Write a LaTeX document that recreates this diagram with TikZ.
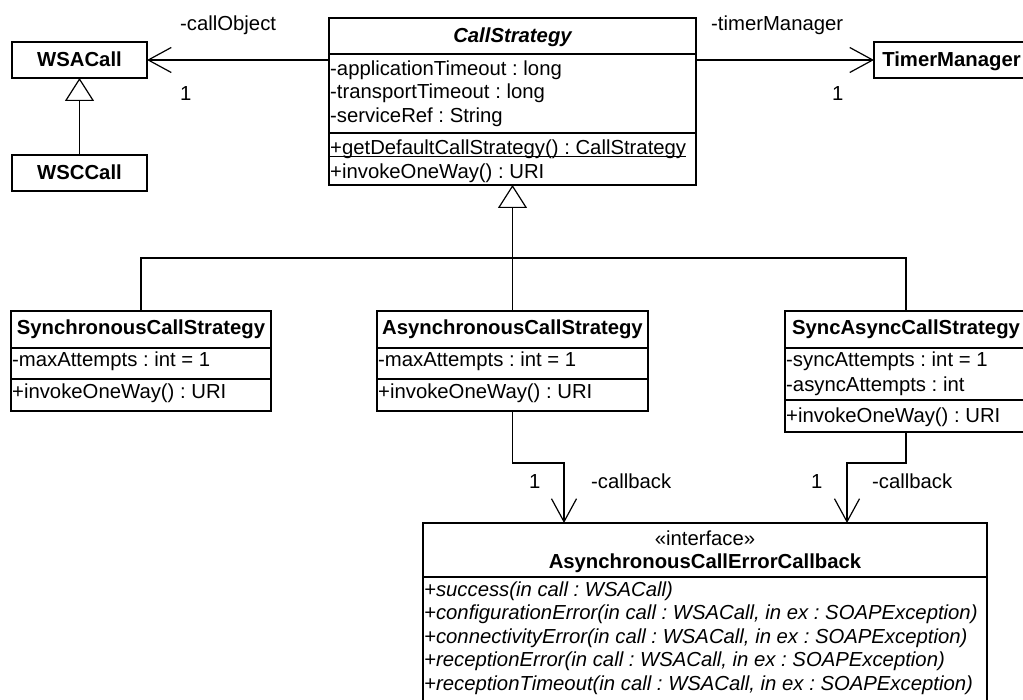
\documentclass[tikz,border=0pt]{standalone}
\usepackage{fontspec}
\setmainfont{Liberation Sans}
\usetikzlibrary{arrows.meta}
\frenchspacing

\begin{document}
\begin{tikzpicture}[x=1pt,y=-1pt,
  frame/.style={draw, line width=1.2pt, inner sep=0pt, outer sep=0pt},
  txt/.style={inner sep=0pt, anchor=base west, font=\fontsize{20.3}{24}\selectfont},
  optxt/.style={txt, font=\fontsize{20.3}{24}\selectfont\itshape},
  ttl/.style={inner sep=0pt, anchor=base, font=\fontsize{20.3}{24}\selectfont\bfseries},
  sep/.style={line width=1.2pt},
  conn/.style={line width=1.2pt},
  assoc/.style={conn, -{Straight Barb[length=23pt,width=25pt]}},
  inherit/.style={conn, -{Triangle[open,length=23pt,width=29pt]}}
]
\useasboundingbox (0,0) rectangle (1023,700);

% ---- class frames ----
\node[frame, minimum width=135pt, minimum height=36pt] (wsa) at (79.5,60) {};
\node[frame, minimum width=135pt, minimum height=36pt] (wsc) at (79.5,173) {};
\node[frame, minimum width=155pt, minimum height=36pt] (tm) at (951.5,60) {};
\node[frame, minimum width=367pt, minimum height=167pt] (cs) at (512.5,101.5) {};
\node[frame, minimum width=260pt, minimum height=100pt] (sync) at (141,361) {};
\node[frame, minimum width=271pt, minimum height=100pt] (async) at (512.5,361) {};
\node[frame, minimum width=242pt, minimum height=121pt] (sa) at (906,371.5) {};
\node[frame, minimum width=564pt, minimum height=182pt] (iface) at (705,614) {};

% ---- compartment separators ----
\draw[sep] (cs.west |- 0,54) -- (cs.east |- 0,54);
\draw[sep] (cs.west |- 0,133) -- (cs.east |- 0,133);
\draw[sep] (sync.west |- 0,348) -- (sync.east |- 0,348);
\draw[sep] (sync.west |- 0,379) -- (sync.east |- 0,379);
\draw[sep] (async.west |- 0,348) -- (async.east |- 0,348);
\draw[sep] (async.west |- 0,379) -- (async.east |- 0,379);
\draw[sep] (sa.west |- 0,348) -- (sa.east |- 0,348);
\draw[sep] (sa.west |- 0,400) -- (sa.east |- 0,400);
\draw[sep] (iface.west |- 0,577) -- (iface.east |- 0,577);

% ---- class names ----
\node[ttl] (wsaT) at (79.5,67) {WSACall};
\node[ttl] (wscT) at (79.5,180) {WSCCall};
\node[ttl] (tmT) at (951.5,67) {TimerManager};
\node[ttl, font=\fontsize{20.3}{24}\selectfont\bfseries\itshape] (csT) at (512.5,43) {CallStrategy};
\node[ttl] (syncT) at (141,335) {SynchronousCallStrategy};
\node[ttl] (asyncT) at (512.5,335) {AsynchronousCallStrategy};
\node[ttl] (saT) at (906,335) {SyncAsyncCallStrategy};
\node[ttl, font=\fontsize{20.3}{24}\selectfont] (ifS) at (705,545) {«interface»};
\node[ttl] (ifT) at (705,568) {AsynchronousCallErrorCallback};

% ---- CallStrategy members ----
\node[txt] (csA1) at (330,75.5) {-applicationTimeout : long};
\node[txt] (csA2) at (330,99) {-transportTimeout : long};
\node[txt] (csA3) at (330,122.5) {-serviceRef : String};
\node[txt] (csM1) at (330,155) {+getDefaultCallStrategy() : CallStrategy};
\draw[line width=1pt] ([yshift=-2pt]csM1.base west) -- ([yshift=-2pt]csM1.base east);
\node[txt] (csM2) at (330,178.5) {+invokeOneWay() : URI};

% ---- subclass members ----
\node[txt] (syncA) at (12,367) {-maxAttempts : int = 1};
\node[txt] (syncM) at (12,399) {+invokeOneWay() : URI};
\node[txt] (asyncA) at (378,367) {-maxAttempts : int = 1};
\node[txt] (asyncM) at (378,399) {+invokeOneWay() : URI};
\node[txt] (saA1) at (786,367) {-syncAttempts : int = 1};
\node[txt] (saA2) at (786,392) {-asyncAttempts : int};
\node[txt] (saM) at (786,423) {+invokeOneWay() : URI};

% ---- interface operations ----
\node[optxt] (ifM1) at (424,596) {+success(in call : WSACall)};
\node[optxt] (ifM2) at (424,619.5) {+configurationError(in call : WSACall, in ex : SOAPException)};
\node[optxt] (ifM3) at (424,643) {+connectivityError(in call : WSACall, in ex : SOAPException)};
\node[optxt] (ifM4) at (424,666.5) {+receptionError(in call : WSACall, in ex : SOAPException)};
\node[optxt] (ifM5) at (424,690) {+receptionTimeout(in call : WSACall, in ex : SOAPException)};

% ---- generalizations ----
\draw[inherit] (wsc.north) -- (wsa.south);
\coordinate (junc) at (512.5,258);
\draw[inherit] (junc) -- (cs.south);
\draw[conn] (sync.north) |- (junc);
\draw[conn] (async.north) -- (junc);
\draw[conn] (sa.north) |- (junc);

% ---- associations ----
\draw[assoc] (wsa.east -| cs.west) -- (wsa.east);
\draw[assoc] (tm.west -| cs.east) -- (tm.west);
\coordinate (bendA) at (564,463);
\coordinate (bendB) at (847,463);
\draw[assoc] (async.south) |- (bendA) -- (bendA |- iface.north);
\draw[assoc] (sa.south) |- (bendB) -- (bendB |- iface.north);

% ---- role names and multiplicities ----
\node[txt] (r1) at (180,31) {-callObject};
\node[txt] (m1) at (180,101) {1};
\node[txt] (r2) at (711,31) {-timerManager};
\node[txt] (m2) at (832,101) {1};
\node[txt] (m3) at (529,489) {1};
\node[txt] (r3) at (591,489) {-callback};
\node[txt] (m4) at (811,489) {1};
\node[txt] (r4) at (872,489) {-callback};
\end{tikzpicture}
\end{document}
